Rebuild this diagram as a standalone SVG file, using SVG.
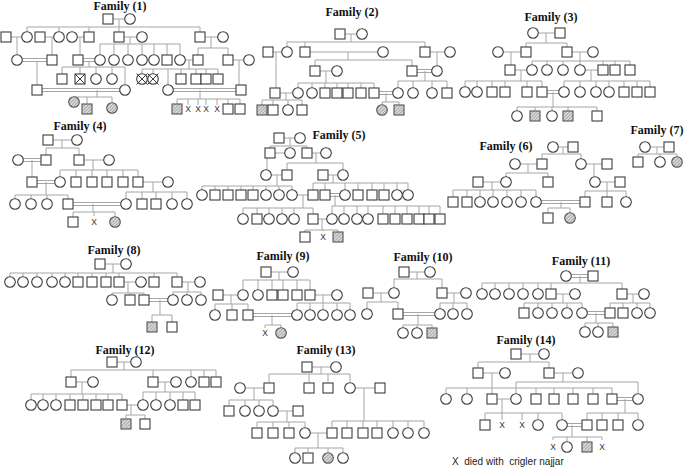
<svg xmlns="http://www.w3.org/2000/svg" xmlns:xlink="http://www.w3.org/1999/xlink" width="685" height="468" viewBox="0 0 685 468">
<style>
.n{fill:#fff;stroke:#3c3c3c;stroke-width:1.1}
.a{fill:url(#h);stroke:#555;stroke-width:1.1}
.l{fill:none;stroke:#a6a6a6;stroke-width:1}
.t{font-family:"Liberation Serif",serif;font-weight:bold;font-size:12px;fill:#111;text-anchor:middle}
.x{font-family:"Liberation Sans",sans-serif;font-size:8.5px;fill:#333;text-anchor:middle}
.lg{font-family:"Liberation Sans",sans-serif;font-size:10px;fill:#222}
</style>
<defs>
<pattern id="h" width="2.4" height="2.4" patternUnits="userSpaceOnUse" patternTransform="rotate(45)"><rect width="2.4" height="2.4" fill="#e2e2e2"/><line x1="0.6" y1="0" x2="0.6" y2="2.4" stroke="#9a9a9a" stroke-width="0.9"/></pattern>
<rect id="S" class="n" x="-5" y="-5" width="10" height="10"/>
<circle id="C" class="n" r="5.3"/>
<rect id="SA" class="a" x="-5" y="-5" width="10" height="10"/>
<circle id="CA" class="a" r="5.3"/>
<g id="SX"><rect class="n" x="-5" y="-5" width="10" height="10"/><path d="M-5,-5L5,5M5,-5L-5,5" stroke="#3c3c3c" stroke-width="1"/></g>
<g id="CX"><circle class="n" r="5.3"/><path d="M-5.5,-5.5L5.5,5.5M5.5,-5.5L-5.5,5.5" stroke="#3c3c3c" stroke-width="1"/></g>
</defs>
<rect width="685" height="468" fill="#fff"/>

<g id="family-1">
<text class="t" x="120" y="10">Family (1)</text>
<g id="f1-links" class="l"><path d="M108,19H130M119,19V27M27,27H200M27,27V32M59,27V32M89,27V32M119,27V32M200,27V32M6,37H27M40,37H59M72,37H89M119,37H142M200,37H223M17,37V55M52,37V55M80,37V55M130,37V44M100,44H180M100,44V55M114,44V55M128,44V55M142,44V55M154,44V55M167,44V55M180,44V55M211,37V48M198,48H228M198,48V55M228,48V55M180,60H198M228,60H249M37,61V85M89,61V67M62,67H125M62,67V74M80,67V74M96,67V74M112,67V74M125,67V85M189,60V69M142,69H218M142,69V74M153,69V74M168,69V85M181,69V74M196,69V74M206,69V74M218,69V74M239,60V85M97,90V97M74,97H112M74,97V98M87,97V104M112,97V103M200,90V99M177,99H240M177,99V104M188,99V105M198,99V105M206,99V105M217,99V105M228,99V104M240,99V104M17,58.5H52M17,61.5H52M78,58.5H100M78,61.5H100M37,88.5H125M37,91.5H125M168,88.5H241M168,91.5H241"/></g>
<g id="f1-nodes">
<use href="#S" x="108" y="19"/><use href="#C" x="130" y="19"/>
<use href="#S" x="6" y="37"/><use href="#C" x="27" y="37"/><use href="#S" x="40" y="37"/><use href="#C" x="59" y="37"/><use href="#C" x="72" y="37"/><use href="#S" x="89" y="37"/><use href="#S" x="119" y="37"/><use href="#C" x="142" y="37"/><use href="#S" x="200" y="37"/><use href="#C" x="223" y="37"/>
<use href="#C" x="17" y="60"/><use href="#S" x="52" y="60"/><use href="#S" x="78" y="60"/><use href="#C" x="100" y="60"/><use href="#C" x="114" y="60"/><use href="#C" x="128" y="60"/><use href="#C" x="142" y="60"/><use href="#C" x="154" y="60"/><use href="#S" x="167" y="60"/><use href="#C" x="180" y="60"/><use href="#S" x="198" y="60"/><use href="#S" x="228" y="60"/><use href="#C" x="249" y="60"/>
<use href="#S" x="62" y="79"/><use href="#SX" x="80" y="79"/><use href="#C" x="96" y="79"/><use href="#C" x="112" y="79"/><use href="#CX" x="142" y="79"/><use href="#CX" x="153" y="79"/><use href="#S" x="181" y="79"/><use href="#S" x="196" y="79"/><use href="#S" x="206" y="79"/><use href="#S" x="218" y="79"/>
<use href="#S" x="37" y="90"/><use href="#C" x="125" y="90"/><use href="#C" x="168" y="90"/><use href="#S" x="241" y="90"/>
<use href="#CA" x="74" y="102"/><use href="#SA" x="87" y="109"/><use href="#CA" x="112" y="108"/><use href="#SA" x="177" y="109"/><use href="#S" x="228" y="109"/><use href="#S" x="240" y="109"/>
<text class="x" x="188" y="112">X</text><text class="x" x="198" y="112">X</text><text class="x" x="206" y="112">X</text><text class="x" x="217" y="112">X</text>
</g>
</g>

<g id="family-2">
<text class="t" x="352" y="16">Family (2)</text>
<g id="f2-links" class="l"><path d="M340,34H362M351,34V42M287,42H425M287,42V47M305,42V47M425,42V47M268,52H287M305,52H383M425,52H450M276,52V88M348,52V60M315,60H412M315,60V66M412,60V66M437,52V66M315,71H337M326,71V83M298,83H374M298,83V88M312,83V88M325,83V88M337,83V88M348,83V88M361,83V88M374,83V88M425,71V81M398,81H447M398,81V88M413,81V88M432,81V88M447,81V88M275,93H298M286,93V100M262,100H302M262,100V105M273,100V105M288,100V105M302,100V105M386,93V102M382,102H399M382,102V105M399,102V105M412,69.5H437M412,72.5H437M374,91.5H398M374,94.5H398"/></g>
<g id="f2-nodes">
<use href="#S" x="340" y="34"/><use href="#C" x="362" y="34"/>
<use href="#S" x="268" y="52"/><use href="#C" x="287" y="52"/><use href="#S" x="305" y="52"/><use href="#C" x="383" y="52"/><use href="#S" x="425" y="52"/><use href="#C" x="450" y="52"/>
<use href="#S" x="315" y="71"/><use href="#C" x="337" y="71"/><use href="#S" x="412" y="71"/><use href="#C" x="437" y="71"/>
<use href="#S" x="275" y="93"/><use href="#C" x="298" y="93"/><use href="#C" x="312" y="93"/><use href="#S" x="325" y="93"/><use href="#S" x="337" y="93"/><use href="#S" x="348" y="93"/><use href="#S" x="361" y="93"/><use href="#S" x="374" y="93"/><use href="#C" x="398" y="93"/><use href="#C" x="413" y="93"/><use href="#C" x="432" y="93"/><use href="#S" x="447" y="93"/>
<use href="#SA" x="262" y="110"/><use href="#S" x="273" y="110"/><use href="#C" x="288" y="110"/><use href="#S" x="302" y="110"/><use href="#CA" x="382" y="110"/><use href="#SA" x="399" y="110"/>
</g>
</g>

<g id="family-3">
<text class="t" x="551" y="21">Family (3)</text>
<g id="f3-links" class="l"><path d="M533,33H560M546,33V43M526,43H567M526,43V47M567,43V47M498,52H526M567,52H593M511,52V65M580,52V61M532,61H630M532,61V65M547,61V65M563,61V65M580,61V65M603,61V65M615,61V65M630,61V65M510,70H532M580,70H603M521,70V81M465,81H542M465,81V87M477,81V87M492,81V87M505,81V87M527,81V87M542,81V87M591,70V81M564,81H650M564,81V87M580,81V87M596,81V87M609,81V87M624,81V87M637,81V87M650,81V87M542,90.5H564M542,93.5H564M553,92V107M517,107H597M517,107V111M535,107V111M552,107V111M568,107V111M597,107V111"/></g>
<g id="f3-nodes">
<use href="#C" x="533" y="33"/><use href="#S" x="560" y="33"/>
<use href="#C" x="498" y="52"/><use href="#S" x="526" y="52"/><use href="#S" x="567" y="52"/><use href="#C" x="593" y="52"/>
<use href="#S" x="510" y="70"/><use href="#C" x="532" y="70"/><use href="#C" x="547" y="70"/><use href="#C" x="563" y="70"/><use href="#C" x="580" y="70"/><use href="#S" x="603" y="70"/><use href="#S" x="615" y="70"/><use href="#S" x="630" y="70"/>
<use href="#C" x="465" y="92"/><use href="#C" x="477" y="92"/><use href="#S" x="492" y="92"/><use href="#S" x="505" y="92"/><use href="#S" x="527" y="92"/><use href="#S" x="542" y="92"/><use href="#C" x="564" y="92"/><use href="#C" x="580" y="92"/><use href="#C" x="596" y="92"/><use href="#C" x="609" y="92"/><use href="#S" x="624" y="92"/><use href="#S" x="637" y="92"/><use href="#S" x="650" y="92"/>
<use href="#C" x="517" y="116"/><use href="#SA" x="535" y="116"/><use href="#C" x="552" y="116"/><use href="#SA" x="568" y="116"/><use href="#S" x="597" y="116"/>
</g>
</g>

<g id="family-4">
<text class="t" x="80" y="130">Family (4)</text>
<g id="f4-links" class="l"><path d="M48,140H77M62,140V148M46,148H79M46,148V155M79,148V155M79,160H109M32,160V177M93,160V170M60,170H138M60,170V177M76,170V177M92,170V177M107,170V177M123,170V177M138,170V177M138,182H168M46,182V195M15,195H68M15,195V199M31,195V199M47,195V199M68,195V199M153,182V192M126,192H187M126,192V199M142,192V199M156,192V199M172,192V199M187,192V199M93,204V212M73,212H115M73,212V217M94,212V216M115,212V217M18,158.5H46M18,161.5H46M32,180.5H60M32,183.5H60M68,202.5H126M68,205.5H126"/></g>
<g id="f4-nodes">
<use href="#S" x="48" y="140"/><use href="#C" x="77" y="140"/>
<use href="#C" x="18" y="160"/><use href="#S" x="46" y="160"/><use href="#S" x="79" y="160"/><use href="#C" x="109" y="160"/>
<use href="#S" x="32" y="182"/><use href="#C" x="60" y="182"/><use href="#S" x="76" y="182"/><use href="#S" x="92" y="182"/><use href="#S" x="107" y="182"/><use href="#S" x="123" y="182"/><use href="#S" x="138" y="182"/><use href="#C" x="168" y="182"/>
<use href="#C" x="15" y="204"/><use href="#C" x="31" y="204"/><use href="#C" x="47" y="204"/><use href="#S" x="68" y="204"/><use href="#C" x="126" y="204"/><use href="#S" x="142" y="204"/><use href="#S" x="156" y="204"/><use href="#C" x="172" y="204"/><use href="#C" x="187" y="204"/>
<use href="#S" x="73" y="222"/><use href="#CA" x="115" y="222"/><text class="x" x="94" y="225">X</text>
</g>
</g>

<g id="family-5">
<text class="t" x="339" y="139">Family (5)</text>
<g id="f5-links" class="l"><path d="M279,138H300M290,138V146M270,146H307M270,146V148M307,146V148M270,153H290M307,153H326M267,153V170M316,153V163M287,163H343M287,163V170M343,163V170M266,175H287M323,175H343M277,175V186M202,186H292M202,186V190M215,186V190M228,186V190M241,186V190M253,186V190M266,186V190M279,186V190M292,186V190M333,175V183M313,183H408M313,183V190M325,183V190M345,183V190M358,183V190M372,183V190M384,183V190M397,183V190M408,183V190M292,195H313M303,195V208M243,208H313M243,208V214M257,208V214M269,208V214M282,208V214M294,208V214M313,208V214M335,195V206M332,206H440M332,206V214M344,206V214M357,206V214M368,206V214M383,206V214M395,206V214M407,206V214M419,206V214M429,206V214M440,206V214M313,219H332M322,219V230M305,230H338M305,230V232M323,230V231M338,230V232M325,193.5H345M325,196.5H345"/></g>
<g id="f5-nodes">
<use href="#S" x="279" y="138"/><use href="#C" x="300" y="138"/>
<use href="#S" x="270" y="153"/><use href="#C" x="290" y="153"/><use href="#S" x="307" y="153"/><use href="#C" x="326" y="153"/>
<use href="#C" x="266" y="175"/><use href="#S" x="287" y="175"/><use href="#S" x="323" y="175"/><use href="#C" x="343" y="175"/>
<use href="#C" x="202" y="195"/><use href="#S" x="215" y="195"/><use href="#S" x="228" y="195"/><use href="#S" x="241" y="195"/><use href="#S" x="253" y="195"/><use href="#C" x="266" y="195"/><use href="#C" x="279" y="195"/><use href="#C" x="292" y="195"/><use href="#S" x="313" y="195"/><use href="#S" x="325" y="195"/><use href="#C" x="345" y="195"/><use href="#S" x="358" y="195"/><use href="#S" x="372" y="195"/><use href="#S" x="384" y="195"/><use href="#C" x="397" y="195"/><use href="#C" x="408" y="195"/>
<use href="#C" x="243" y="219"/><use href="#S" x="257" y="219"/><use href="#C" x="269" y="219"/><use href="#C" x="282" y="219"/><use href="#C" x="294" y="219"/><use href="#S" x="313" y="219"/><use href="#C" x="332" y="219"/><use href="#C" x="344" y="219"/><use href="#C" x="357" y="219"/><use href="#C" x="368" y="219"/><use href="#S" x="383" y="219"/><use href="#S" x="395" y="219"/><use href="#S" x="407" y="219"/><use href="#S" x="419" y="219"/><use href="#S" x="429" y="219"/><use href="#S" x="440" y="219"/>
<use href="#S" x="305" y="237"/><use href="#SA" x="338" y="237"/><text class="x" x="323" y="240">X</text>
</g>
</g>

<g id="family-6">
<text class="t" x="506" y="150">Family (6)</text>
<g id="f6-links" class="l"><path d="M553,147H573M563,147V154M542,154H581M542,154V159M581,154V159M515,164H542M581,164H607M528,164V173M506,173H548M506,173V177M548,173V177M594,164V177M478,182H506M595,182H620M492,182V190M453,190H536M453,190V197M467,190V197M480,190V197M493,190V197M507,190V197M521,190V197M536,190V197M607,182V191M585,191H626M585,191V197M607,191V197M626,191V197M536,200.5H585M536,203.5H585M561,202V208M548,208H570M548,208V213M570,208V213"/></g>
<g id="f6-nodes">
<use href="#C" x="553" y="147"/><use href="#S" x="573" y="147"/>
<use href="#C" x="515" y="164"/><use href="#S" x="542" y="164"/><use href="#C" x="581" y="164"/><use href="#S" x="607" y="164"/>
<use href="#S" x="478" y="182"/><use href="#C" x="506" y="182"/><use href="#S" x="548" y="182"/><use href="#C" x="595" y="182"/><use href="#S" x="620" y="182"/>
<use href="#S" x="453" y="202"/><use href="#S" x="467" y="202"/><use href="#C" x="480" y="202"/><use href="#C" x="493" y="202"/><use href="#C" x="507" y="202"/><use href="#C" x="521" y="202"/><use href="#C" x="536" y="202"/><use href="#S" x="585" y="202"/><use href="#S" x="607" y="202"/><use href="#C" x="626" y="202"/>
<use href="#S" x="548" y="218"/><use href="#CA" x="570" y="218"/>
</g>
</g>

<g id="family-7">
<text class="t" x="657" y="134">Family (7)</text>
<g id="f7-links" class="l"><path d="M645,147H669M657,147V154M638,154H677M638,154V157M660,154V157M677,154V157"/></g>
<g id="f7-nodes">
<use href="#C" x="645" y="147"/><use href="#S" x="669" y="147"/>
<use href="#S" x="638" y="162"/><use href="#C" x="660" y="162"/><use href="#CA" x="677" y="162"/>
</g>
</g>

<g id="family-8">
<text class="t" x="114" y="254">Family (8)</text>
<g id="f8-links" class="l"><path d="M100,264H126M113,264V273M10,273H177M10,273V277M23,273V277M37,273V277M52,273V277M65,273V277M78,273V277M92,273V277M106,273V277M119,273V277M154,273V277M177,273V277M119,282H141M177,282H200M128,282V293M112,293H144M112,293V295M130,293V295M144,293V295M188,282V292M173,292H201M173,292V295M187,292V295M201,292V295M144,298.5H173M144,301.5H173M160,300V315M152,315H172M152,315V322M172,315V322"/></g>
<g id="f8-nodes">
<use href="#S" x="100" y="264"/><use href="#C" x="126" y="264"/>
<use href="#C" x="10" y="282"/><use href="#C" x="23" y="282"/><use href="#C" x="37" y="282"/><use href="#C" x="52" y="282"/><use href="#C" x="65" y="282"/><use href="#S" x="78" y="282"/><use href="#S" x="92" y="282"/><use href="#S" x="106" y="282"/><use href="#S" x="119" y="282"/><use href="#C" x="141" y="282"/><use href="#S" x="154" y="282"/><use href="#S" x="177" y="282"/><use href="#C" x="200" y="282"/>
<use href="#C" x="112" y="300"/><use href="#S" x="130" y="300"/><use href="#S" x="144" y="300"/><use href="#C" x="173" y="300"/><use href="#C" x="187" y="300"/><use href="#C" x="201" y="300"/>
<use href="#SA" x="152" y="327"/><use href="#S" x="172" y="327"/>
</g>
</g>

<g id="family-9">
<text class="t" x="283" y="260">Family (9)</text>
<g id="f9-links" class="l"><path d="M266,272H293M279,272V280M243,280H310M243,280V290M258,280V290M272,280V290M283,280V290M297,280V290M310,280V290M218,295H243M310,295H337M231,295V304M215,304H248M215,304V310M232,304V310M248,304V310M323,295V303M297,303H350M297,303V310M310,303V310M323,303V310M337,303V310M350,303V310M248,313.5H297M248,316.5H297M272,315V325M265,325H281M265,325V328M281,325V328"/></g>
<g id="f9-nodes">
<use href="#S" x="266" y="272"/><use href="#C" x="293" y="272"/>
<use href="#S" x="218" y="295"/><use href="#C" x="243" y="295"/><use href="#C" x="258" y="295"/><use href="#S" x="272" y="295"/><use href="#S" x="283" y="295"/><use href="#S" x="297" y="295"/><use href="#S" x="310" y="295"/><use href="#C" x="337" y="295"/>
<use href="#C" x="215" y="315"/><use href="#S" x="232" y="315"/><use href="#S" x="248" y="315"/><use href="#C" x="297" y="315"/><use href="#C" x="310" y="315"/><use href="#C" x="323" y="315"/><use href="#C" x="337" y="315"/><use href="#C" x="350" y="315"/>
<use href="#CA" x="281" y="333"/><text class="x" x="265" y="336">X</text>
</g>
</g>

<g id="family-10">
<text class="t" x="423" y="261">Family (10)</text>
<g id="f10-links" class="l"><path d="M404,272H430M417,272V279M394,279H442M394,279V288M442,279V288M368,293H394M442,293H466M381,293V302M367,302H398M367,302V309M398,302V309M454,293V303M440,303H467M440,303V309M453,303V309M467,303V309M398,312.5H440M398,315.5H440M418,314V325M403,325H432M403,325V328M417,325V328M432,325V328"/></g>
<g id="f10-nodes">
<use href="#S" x="404" y="272"/><use href="#C" x="430" y="272"/>
<use href="#S" x="368" y="293"/><use href="#C" x="394" y="293"/><use href="#S" x="442" y="293"/><use href="#C" x="466" y="293"/>
<use href="#C" x="367" y="314"/><use href="#S" x="398" y="314"/><use href="#C" x="440" y="314"/><use href="#C" x="453" y="314"/><use href="#C" x="467" y="314"/>
<use href="#C" x="403" y="333"/><use href="#C" x="417" y="333"/><use href="#SA" x="432" y="333"/>
</g>
</g>

<g id="family-11">
<text class="t" x="581" y="265">Family (11)</text>
<g id="f11-links" class="l"><path d="M566,274.5H593M566,277.5H593M580,276V283M482,283H622M482,283V289M495,283V289M509,283V289M523,283V289M538,283V289M551,283V289M622,283V289M551,294H575M622,294H644M563,294V303M524,303H582M524,303V308M538,303V308M552,303V308M567,303V308M582,303V308M633,294V303M610,303H650M610,303V308M623,303V308M637,303V308M650,303V308M582,311.5H610M582,314.5H610M596,313V323M585,323H613M585,323V327M598,323V327M613,323V327"/></g>
<g id="f11-nodes">
<use href="#C" x="566" y="276"/><use href="#S" x="593" y="276"/>
<use href="#C" x="482" y="294"/><use href="#C" x="495" y="294"/><use href="#C" x="509" y="294"/><use href="#C" x="523" y="294"/><use href="#C" x="538" y="294"/><use href="#S" x="551" y="294"/><use href="#C" x="575" y="294"/><use href="#S" x="622" y="294"/><use href="#C" x="644" y="294"/>
<use href="#S" x="524" y="313"/><use href="#C" x="538" y="313"/><use href="#C" x="552" y="313"/><use href="#C" x="567" y="313"/><use href="#C" x="582" y="313"/><use href="#S" x="610" y="313"/><use href="#S" x="623" y="313"/><use href="#C" x="637" y="313"/><use href="#C" x="650" y="313"/>
<use href="#C" x="585" y="332"/><use href="#C" x="598" y="332"/><use href="#SA" x="613" y="332"/>
</g>
</g>

<g id="family-12">
<text class="t" x="125" y="354">Family (12)</text>
<g id="f12-links" class="l"><path d="M112,362H136M124,362V370M71,370H216M71,370V377M153,370V377M191,370V377M204,370V377M216,370V377M71,382H93M153,382H176M82,382V394M31,394H122M31,394V400M43,394V400M56,394V400M70,394V400M83,394V400M96,394V400M108,394V400M122,394V400M165,382V392M143,392H195M143,392V400M156,392V400M170,392V400M183,392V400M195,392V400M122,405H143M131,405V415M126,415H145M126,415V419M145,415V419"/></g>
<g id="f12-nodes">
<use href="#S" x="112" y="362"/><use href="#C" x="136" y="362"/>
<use href="#S" x="71" y="382"/><use href="#C" x="93" y="382"/><use href="#S" x="153" y="382"/><use href="#C" x="176" y="382"/><use href="#C" x="191" y="382"/><use href="#S" x="204" y="382"/><use href="#S" x="216" y="382"/>
<use href="#C" x="31" y="405"/><use href="#C" x="43" y="405"/><use href="#C" x="56" y="405"/><use href="#S" x="70" y="405"/><use href="#S" x="83" y="405"/><use href="#S" x="96" y="405"/><use href="#S" x="108" y="405"/><use href="#S" x="122" y="405"/><use href="#C" x="143" y="405"/><use href="#C" x="156" y="405"/><use href="#C" x="170" y="405"/><use href="#S" x="183" y="405"/><use href="#S" x="195" y="405"/>
<use href="#SA" x="126" y="424"/><use href="#S" x="145" y="424"/>
</g>
</g>

<g id="family-13">
<text class="t" x="326" y="354">Family (13)</text>
<g id="f13-links" class="l"><path d="M307,367H336M321,367V374M269,374H350M269,374V382M309,374V382M328,374V382M350,374V382M240,388H269M350,388H380M254,388V400M229,400H273M229,400V405M245,400V405M259,400V405M273,400V405M364,388V421M332,421H424M332,421V427M347,421V427M363,421V427M377,421V427M393,421V427M408,421V427M424,421V427M273,411H298M287,411V422M257,422H305M257,422V427M273,422V427M289,422V427M305,422V427M305,433H332M318,433V448M295,448H343M295,448V452M308,448V452M328,448V452M343,448V452"/></g>
<g id="f13-nodes">
<use href="#S" x="307" y="367"/><use href="#C" x="336" y="367"/>
<use href="#C" x="240" y="388"/><use href="#S" x="269" y="388"/><use href="#S" x="309" y="388"/><use href="#S" x="328" y="388"/><use href="#C" x="350" y="388"/><use href="#S" x="380" y="388"/>
<use href="#S" x="229" y="411"/><use href="#C" x="245" y="411"/><use href="#C" x="259" y="411"/><use href="#C" x="273" y="411"/><use href="#S" x="298" y="411"/>
<use href="#S" x="257" y="433"/><use href="#S" x="273" y="433"/><use href="#S" x="289" y="433"/><use href="#C" x="305" y="433"/><use href="#S" x="332" y="433"/><use href="#S" x="347" y="433"/><use href="#S" x="363" y="433"/><use href="#S" x="377" y="433"/><use href="#C" x="393" y="433"/><use href="#C" x="408" y="433"/><use href="#C" x="424" y="433"/>
<use href="#C" x="295" y="458"/><use href="#S" x="308" y="458"/><use href="#CA" x="328" y="458"/><use href="#C" x="343" y="458"/>
</g>
</g>

<g id="family-14">
<text class="t" x="526" y="344">Family (14)</text>
<g id="f14-links" class="l"><path d="M516,354H544M530,354V362M478,362H549M478,362V368M549,362V368M478,373H505M549,373H578M492,373V394M446,388H612M446,388V393M467,388V393M536,388V394M554,388V394M573,388V394M593,388V394M612,388V394M563,373V382M516,382H638M516,382V393M638,382V393M492,399H516M502,399V413M485,413H562M485,413V420M502,413V420M522,413V420M538,413V419M562,413V419M612,397.5H638M612,400.5H638M625,399V413M587,413H638M587,413V420M602,413V420M618,413V420M638,413V419M562,423.5H587M562,426.5H587M572,425V437M553,437H602M553,437V440M567,437V441M587,437V442M602,437V440"/></g>
<g id="f14-nodes">
<use href="#S" x="516" y="354"/><use href="#C" x="544" y="354"/>
<use href="#S" x="478" y="373"/><use href="#C" x="505" y="373"/><use href="#S" x="549" y="373"/><use href="#C" x="578" y="373"/>
<use href="#C" x="446" y="399"/><use href="#C" x="467" y="399"/><use href="#S" x="492" y="399"/><use href="#C" x="516" y="399"/><use href="#S" x="536" y="399"/><use href="#S" x="554" y="399"/><use href="#S" x="573" y="399"/><use href="#S" x="593" y="399"/><use href="#S" x="612" y="399"/><use href="#C" x="638" y="399"/>
<use href="#S" x="485" y="425"/><use href="#C" x="538" y="425"/><use href="#C" x="562" y="425"/><use href="#S" x="587" y="425"/><use href="#S" x="602" y="425"/><use href="#S" x="618" y="425"/><use href="#C" x="638" y="425"/>
<text class="x" x="502" y="428">X</text><text class="x" x="522" y="428">X</text>
<use href="#C" x="567" y="447"/><use href="#SA" x="587" y="447"/>
<text class="x" x="553" y="450">X</text><text class="x" x="602" y="450">X</text>
</g>
</g>

<text id="legend" class="lg" x="452" y="465" xml:space="preserve">X  died with  crigler najjar</text>
</svg>
